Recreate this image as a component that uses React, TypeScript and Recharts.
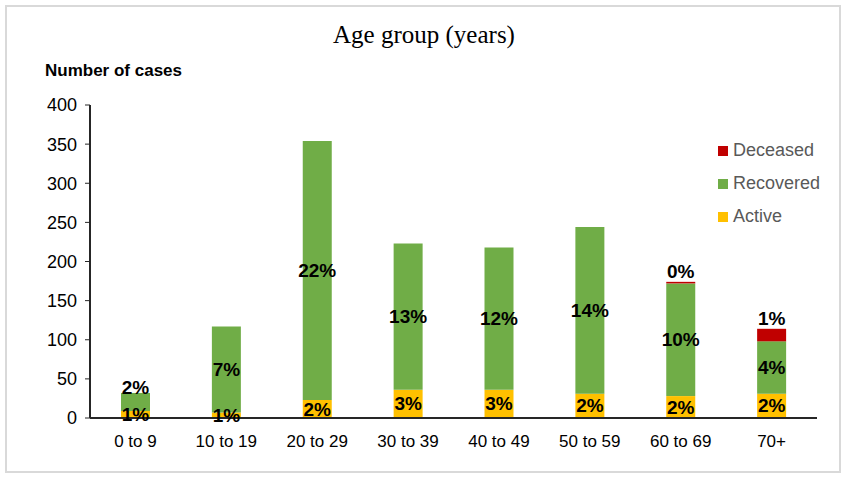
import React from 'react';
import { BarChart, Bar, XAxis, YAxis, LabelList } from 'recharts';

const ageGroups = ['0 to 9', '10 to 19', '20 to 29', '30 to 39', '40 to 49', '50 to 59', '60 to 69', '70+'];
const active = [9, 7, 23, 36, 36, 31, 28, 31];
const recovered = [23, 110, 331, 187, 182, 213, 144, 67];
const deceased = [0, 0, 0, 0, 0, 0, 2, 16];
const activePct = ['1%', '1%', '2%', '3%', '3%', '2%', '2%', '2%'];
const recoveredPct = ['2%', '7%', '22%', '13%', '12%', '14%', '10%', '4%'];
const deceasedPct = ['', '', '', '', '', '', '0%', '1%'];
const yTicks = [0, 50, 100, 150, 200, 250, 300, 350, 400];

const data = ageGroups.map((name, i) => ({
  name,
  active: active[i],
  recovered: recovered[i],
  deceased: deceased[i],
  activePct: activePct[i],
  recoveredPct: recoveredPct[i],
  deceasedPct: deceasedPct[i],
}));

const legendItems = [
  { label: 'Deceased', color: '#C00000' },
  { label: 'Recovered', color: '#70AD47' },
  { label: 'Active', color: '#FFC000' },
];

const font = 'Arial, "Liberation Sans", sans-serif';
const labelStyle = { fontFamily: font, fontSize: 19, fontWeight: 700, fill: '#000' };

const centerLabel = (props: any) => {
  const { x, y, width, height, value } = props;
  if (!value) return null;
  return (
    <text x={x + width / 2} y={y + height / 2} textAnchor="middle" dominantBaseline="central" style={labelStyle}>
      {value}
    </text>
  );
};

const recoveredLabel = (props: any) => {
  const { x, y, width, height, value } = props;
  if (!value) return null;
  const cy = height < 20 ? y - 5 : y + height / 2;
  return (
    <text x={x + width / 2} y={cy} textAnchor="middle" dominantBaseline="central" style={labelStyle}>
      {value}
    </text>
  );
};

const topLabel = (props: any) => {
  const { x, y, width, value } = props;
  if (!value) return null;
  return (
    <text x={x + width / 2} y={y - 10} textAnchor="middle" dominantBaseline="central" style={labelStyle}>
      {value}
    </text>
  );
};

export default function App() {
  return (
    <div style={{ position: 'absolute', left: 0, top: 0, width: 848, height: 482, background: '#fff' }}>
      <div
        style={{
          position: 'absolute',
          left: 5,
          top: 5,
          width: 832,
          height: 464,
          border: '2px solid #d9d9d9',
        }}
      />
      <div
        style={{
          position: 'absolute',
          left: 0,
          width: 848,
          top: 21,
          textAlign: 'center',
          fontFamily: '"Liberation Serif", "Times New Roman", serif',
          fontSize: 25,
          color: '#000',
        }}
      >
        Age group (years)
      </div>
      <div
        style={{
          position: 'absolute',
          left: 45,
          top: 61,
          fontFamily: font,
          fontSize: 17,
          fontWeight: 700,
          color: '#000',
        }}
      >
        Number of cases
      </div>
      <div style={{ position: 'absolute', left: 0, top: 0 }}>
        <BarChart width={848} height={482} data={data} margin={{ top: 105, right: 31, left: 40, bottom: 34 }}>
          <XAxis
            dataKey="name"
            tickLine={false}
            axisLine={{ stroke: '#262626', strokeWidth: 2 }}
            tick={{ fill: '#000', fontSize: 17, fontFamily: font }}
            tickMargin={11}
            height={30}
          />
          <YAxis
            domain={[0, 400]}
            ticks={yTicks}
            width={50}
            tickSize={5}
            tickLine={{ stroke: '#262626' }}
            axisLine={{ stroke: '#262626', strokeWidth: 2 }}
            tick={{ fill: '#000', fontSize: 18, fontFamily: font }}
            tickMargin={8}
          />
          <Bar dataKey="active" stackId="a" fill="#FFC000" barSize={29} isAnimationActive={false}>
            <LabelList dataKey="activePct" content={centerLabel} />
          </Bar>
          <Bar dataKey="recovered" stackId="a" fill="#70AD47" barSize={29} isAnimationActive={false}>
            <LabelList dataKey="recoveredPct" content={recoveredLabel} />
          </Bar>
          <Bar dataKey="deceased" stackId="a" fill="#C00000" barSize={29} isAnimationActive={false}>
            <LabelList dataKey="deceasedPct" content={topLabel} />
          </Bar>
        </BarChart>
      </div>
      <div style={{ position: 'absolute', left: 718, top: 134, fontFamily: font, fontSize: 18, color: '#595959' }}>
        {legendItems.map((item) => (
          <div key={item.label} style={{ display: 'flex', alignItems: 'center', height: 33 }}>
            <span style={{ width: 10, height: 10, background: item.color, marginRight: 5, display: 'inline-block' }} />
            <span>{item.label}</span>
          </div>
        ))}
      </div>
    </div>
  );
}
